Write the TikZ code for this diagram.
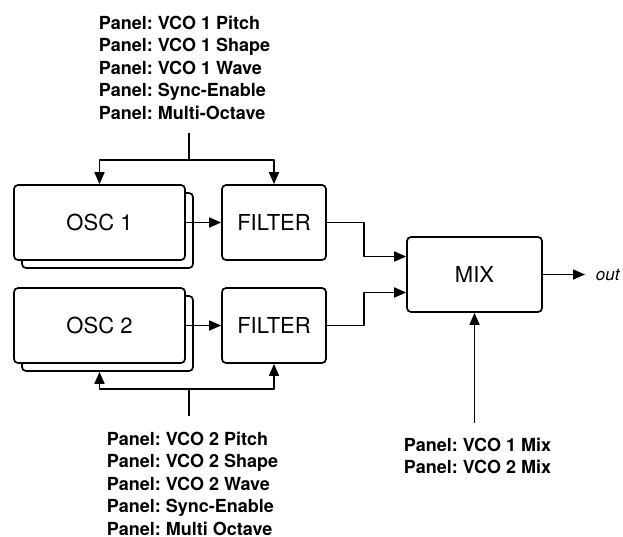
\documentclass[tikz,border=0pt]{standalone}
\usepackage{fontspec}
\setmainfont{TeX Gyre Heros}
\usetikzlibrary{arrows.meta}
\frenchspacing
\begin{document}
\begin{tikzpicture}[x=1pt, y=-1pt, line join=round, line width=1.7pt, >={Triangle[length=12pt,width=10pt]}]
	\tikzset{block style/.style={draw, rounded corners=4pt, fill=white, minimum height=75pt, inner sep=0pt, font=\fontsize{22}{26}\selectfont},
		panel style/.style={font=\fontsize{18}{22.5}\selectfont\bfseries, align=left, inner sep=0pt}}
	\useasboundingbox (0,0) rectangle (623,536);
	% oscillators (stacked) and filters
	\node[block style, minimum width=171pt] (osc1back) at (107.5,230.5) {};
	\node[block style, minimum width=171pt] (osc1) at (99.5,222.5) {OSC 1};
	\node[block style, minimum width=104pt] (filt1) at (274,222.5) {FILTER};
	\node[block style, minimum width=171pt] (osc2back) at (107.5,333.5) {};
	\node[block style, minimum width=171pt] (osc2) at (99.5,325.5) {OSC 2};
	\node[block style, minimum width=104pt] (filt2) at (274,325.5) {FILTER};
	\node[block style, minimum width=135pt] (mix) at (474.5,274.5) {MIX};
	\node[anchor=west, inner sep=0pt, font=\fontsize{17}{20}\selectfont\itshape] (out) at (595,274.5) {out};
	% panel controls
	\node[panel style, anchor=north west] (ctl1) at (98,15) {Panel: VCO 1 Pitch\\Panel: VCO 1 Shape\\Panel: VCO 1 Wave\\Panel: Sync-Enable\\Panel: Multi-Octave};
	\node[panel style, anchor=north west] (ctl2) at (106,431) {Panel: VCO 2 Pitch\\Panel: VCO 2 Shape\\Panel: VCO 2 Wave\\Panel: Sync-Enable\\Panel: Multi Octave};
	\node[panel style, anchor=north west] (ctlmix) at (403,437) {Panel: VCO 1 Mix\\Panel: VCO 2 Mix};
	\coordinate (stem1) at (189,133);
	\coordinate (fork1) at (189,160);
	\coordinate (stem2) at (189,416);
	\coordinate (fork2) at (189,389);
	\coordinate (stemmix) at (474.5,423);
	% connections
	\draw (stem1) -- (fork1);
	\draw[->] (fork1) -| (osc1.north);
	\draw[->] (fork1) -| (filt1.north);
	\draw (stem2) -- (fork2);
	\draw[->] (fork2) -| (osc2.south |- osc2back.south);
	\draw[->] (fork2) -| (filt2.south);
	\draw[->] (osc1) -- (filt1);
	\draw[->] (osc2) -- (filt2);
	\draw[->] (filt1.east) -- ++(37,0) |- ([yshift=18pt]mix.west);
	\draw[->] (filt2.east) -- ++(37,0) |- ([yshift=-18pt]mix.west);
	\draw[->] (mix.east) -- ([xshift=-10pt]out.west);
	\draw[->] (stemmix) -- (mix.south);
\end{tikzpicture}
\end{document}
